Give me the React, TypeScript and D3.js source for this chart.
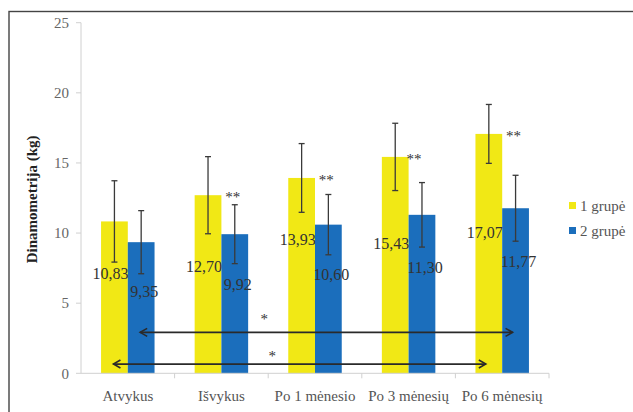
import React from "react";
import * as d3 from "d3";

const categories = ["Atvykus", "Išvykus", "Po 1 mėnesio", "Po 3 mėnesių", "Po 6 mėnesių"];
const group1 = [10.83, 12.7, 13.93, 15.43, 17.07];
const group2 = [9.35, 9.92, 10.6, 11.3, 11.77];
const group1Err = [2.9, 2.75, 2.45, 2.4, 2.1];
const group2Err = [2.25, 2.1, 2.15, 2.3, 2.35];
const group1Labels = ["10,83", "12,70", "13,93", "15,43", "17,07"];
const group2Labels = ["9,35", "9,92", "10,60", "11,30", "11,77"];
const starCats = ["Išvykus", "Po 1 mėnesio", "Po 3 mėnesių", "Po 6 mėnesių"];
const seriesNames = ["1 grupė", "2 grupė"];
const yTicks = [0, 5, 10, 15, 20, 25];
// comparison arrows: value level of arrow, series index
const arrowLevels = [2.92, 0.66];
const arrowSeries = [1, 0];

// layout-only offsets (px) for manually placed value labels
const g1LabelDrop = [52, 71, 61, 86, 98];
const g2LabelDrop = [49, 50, 50, 53, 53];

const W = 633;
const H = 412;
const YELLOW = "#f1e815";
const BLUE = "#1b6ebc";
const FONT = "Liberation Serif";

export default function App() {
  const x = d3.scaleBand<string>().domain(categories).range([81, 549]).padding(0);
  const y = d3.scaleLinear().domain([0, 25]).range([373.3, 22.7]);
  const bw = x.bandwidth();
  const barW = bw / 3.5;
  const series = [group1, group2];
  const errs = [group1Err, group2Err];
  const colors = [YELLOW, BLUE];
  const barX = (c: string, s: number) => (x(c) as number) + (bw - 2 * barW) / 2 + s * barW;

  const arrowHead = (tx: number, ty: number, dir: number) => {
    const len = 7, half = 4;
    return `M${tx - dir * len},${ty - half} L${tx},${ty} L${tx - dir * len},${ty + half}`;
  };

  return (
    <svg width={W} height={H} style={{ position: "absolute", left: 0, top: 0, background: "#fff", fontFamily: FONT }}>
      <rect x={9} y={11.5} width={W + 20} height={H + 20} fill="none" stroke="#444" strokeWidth={1.4} />
      {/* axes */}
      <line x1={81} x2={81} y1={y(25)} y2={y(0)} stroke="#d0d0d0" strokeWidth={1} />
      {yTicks.map((t) => (
        <g key={t}>
          <line x1={76} x2={81} y1={y(t)} y2={y(t)} stroke="#d0d0d0" />
          <text x={69} y={y(t)} dy="0.35em" textAnchor="end" fontSize={15} fill="#666" style={{ fontFamily: FONT }}>{t}</text>
        </g>
      ))}
      <text transform={`translate(32,${y(12.4)}) rotate(-90)`} textAnchor="middle" fontSize={15} fontWeight="bold" fill="#222" dy="0.35em" style={{ fontFamily: FONT }}>Dinamometrija (kg)</text>
      {/* bars */}
      {series.map((vals, s) =>
        categories.map((c, i) => (
          <rect key={`${s}-${i}`} x={barX(c, s)} y={y(vals[i])} width={barW} height={y(0) - y(vals[i])} fill={colors[s]} />
        ))
      )}
      <line x1={81} x2={549} y1={y(0)} y2={y(0)} stroke="#d0d0d0" />
      {categories.map((c, i) => (
        <g key={c}>
          <line x1={(x(c) as number) + bw} x2={(x(c) as number) + bw} y1={y(0)} y2={y(0) + 5} stroke="#d0d0d0" />
          <text x={(x(c) as number) + bw / 2} y={401} textAnchor="middle" fontSize={15} fill="#555" style={{ fontFamily: FONT }}>{c}</text>
        </g>
      ))}
      {/* error bars */}
      {series.map((vals, s) =>
        categories.map((c, i) => {
          const cx = barX(c, s) + barW / 2;
          const hi = y(vals[i] + errs[s][i]);
          const lo = y(vals[i] - errs[s][i]);
          return (
            <g key={`e${s}-${i}`} stroke="#3a3a3a" strokeWidth={1.3}>
              <line x1={cx} x2={cx} y1={hi} y2={lo} />
              <line x1={cx - 3} x2={cx + 3} y1={hi} y2={hi} />
              <line x1={cx - 3} x2={cx + 3} y1={lo} y2={lo} />
            </g>
          );
        })
      )}
      {/* value labels */}
      {categories.map((c, i) => (
        <g key={`l${i}`} fontSize={16} fill="#333" style={{ fontFamily: FONT }}>
          <text x={barX(c, 0) + barW / 2 - 4} y={y(group1[i]) + g1LabelDrop[i]} dy="0.35em" textAnchor="middle">{group1Labels[i]}</text>
          <text x={barX(c, 1) + barW / 2 + 3} y={y(group2[i]) + g2LabelDrop[i]} dy="0.35em" textAnchor="middle">{group2Labels[i]}</text>
        </g>
      ))}
      {/* significance stars */}
      {starCats.map((c) => {
        const i = categories.indexOf(c);
        return (
          <text key={`s${c}`} x={barX(c, 1) + barW / 2 - (i === 3 ? 8 : 2)} y={y(group1[i]) + 7} textAnchor="middle" fontSize={15} fill="#333" style={{ fontFamily: FONT }}>**</text>
        );
      })}
      {/* arrows */}
      {arrowLevels.map((lv, k) => {
        const s = arrowSeries[k];
        const x1 = barX(categories[0], s) + barW / 2 - 1;
        const x2 = barX(categories[4], s) + barW / 2 - 3;
        const yy = y(lv);
        const bx = (x(categories[2]) as number) + (k === 0 ? -4 : 4);
        return (
          <g key={`a${k}`}>
            <line x1={x1} x2={x2} y1={yy} y2={yy} stroke="#2a2a2a" strokeWidth={1.8} />
            <path d={arrowHead(x1, yy, -1)} fill="none" stroke="#2a2a2a" strokeWidth={1.6} />
            <path d={arrowHead(x2, yy, 1)} fill="none" stroke="#2a2a2a" strokeWidth={1.6} />
            <text x={bx} y={yy - (k === 0 ? 8 : 3)} textAnchor="middle" fontSize={15} fill="#333" style={{ fontFamily: FONT }}>*</text>
          </g>
        );
      })}
      {/* legend */}
      {seriesNames.map((n, s) => (
        <g key={n}>
          <rect x={569} y={202 + s * 25} width={7} height={7} fill={colors[s]} />
          <text x={580} y={205.5 + s * 25} dy="0.35em" fontSize={15} fill="#555" style={{ fontFamily: FONT }}>{n}</text>
        </g>
      ))}
    </svg>
  );
}
